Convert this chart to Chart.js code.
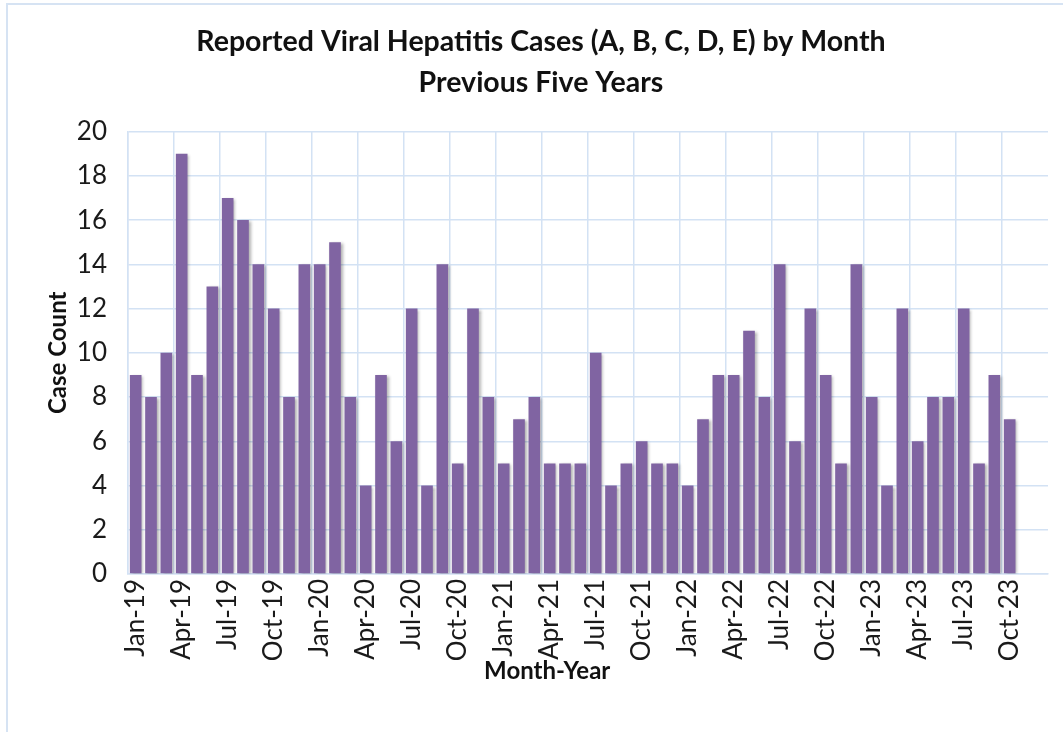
<!DOCTYPE html>
<html>
<head>
<meta charset="utf-8">
<script src="https://cdn.jsdelivr.net/npm/chart.js@4/dist/chart.umd.min.js"></script>
<style>
  html, body { margin: 0; padding: 0; background: #fff; }
  #wrap { position: relative; width: 1063px; height: 732px; overflow: hidden; }
  #frame { position: absolute; left: 6px; top: 3px; width: 1100px; height: 800px;
           border-top: 2px solid #D6E3F3; border-left: 2px solid #D6E3F3; pointer-events: none; }
  canvas { position: absolute; left: 0; top: 0; }
</style>
</head>
<body>
<div id="wrap">
  <canvas id="c" width="1063" height="732"></canvas>
  <div id="frame"></div>
</div>
<script>
const categories = [
  "Jan-19","Feb-19","Mar-19","Apr-19","May-19","Jun-19","Jul-19","Aug-19","Sep-19","Oct-19","Nov-19","Dec-19",
  "Jan-20","Feb-20","Mar-20","Apr-20","May-20","Jun-20","Jul-20","Aug-20","Sep-20","Oct-20","Nov-20","Dec-20",
  "Jan-21","Feb-21","Mar-21","Apr-21","May-21","Jun-21","Jul-21","Aug-21","Sep-21","Oct-21","Nov-21","Dec-21",
  "Jan-22","Feb-22","Mar-22","Apr-22","May-22","Jun-22","Jul-22","Aug-22","Sep-22","Oct-22","Nov-22","Dec-22",
  "Jan-23","Feb-23","Mar-23","Apr-23","May-23","Jun-23","Jul-23","Aug-23","Sep-23","Oct-23","Nov-23","Dec-23"
];
const caseCounts = [
  9, 8, 10, 19, 9, 13, 17, 16, 14, 12, 8, 14,
  14, 15, 8, 4, 9, 6, 12, 4, 14, 5, 12, 8,
  5, 7, 8, 5, 5, 5, 10, 4, 5, 6, 5, 5,
  4, 7, 9, 9, 11, 8, 14, 6, 12, 9, 5, 14,
  8, 4, 12, 6, 8, 8, 12, 5, 9, 7, null, null
];
const yTicks = [0, 2, 4, 6, 8, 10, 12, 14, 16, 18, 20];
const titleLines = ["Reported Viral Hepatitis Cases (A, B, C, D, E) by Month", "Previous Five Years"];
const yTitle = "Case Count";
const xTitle = "Month-Year";

const FONT = "Lato, 'Open Sans', sans-serif";
const GRID = "#D3E2F4";
const BAR = "#8064A2";

const shadowPlugin = {
  id: 'barShadow',
  beforeDatasetsDraw(chart) {
    const ctx = chart.ctx;
    ctx.save();
    ctx.shadowColor = 'rgba(0,0,0,0.32)';
    ctx.shadowOffsetX = 2;
    ctx.shadowOffsetY = 1;
    ctx.shadowBlur = 3;
  },
  afterDatasetsDraw(chart) {
    chart.ctx.restore();
  }
};

new Chart(document.getElementById('c'), {
  type: 'bar',
  data: {
    labels: categories,
    datasets: [{
      label: 'Case Count',
      data: caseCounts,
      backgroundColor: BAR,
      borderWidth: 0,
      barPercentage: 0.76,
      categoryPercentage: 1.0
    }]
  },
  options: {
    responsive: false,
    animation: false,
    events: [],
    layout: { padding: { left: 34, right: 15, top: 0, bottom: 0 } },
    plugins: {
      legend: { display: false },
      tooltip: { enabled: false },
      title: {
        display: true,
        text: titleLines,
        color: '#111',
        font: { family: FONT, size: 28.5, weight: 'bold', lineHeight: 1.45 },
        padding: { top: 21, bottom: 28 }
      }
    },
    scales: {
      x: {
        offset: true,
        grid: {
          offset: true,
          drawTicks: false,
          lineWidth: 1.5,
          color: (c) => (c.index % 3 === 0 ? GRID : 'rgba(0,0,0,0)')
        },
        border: { display: true, color: GRID, width: 1.5 },
        ticks: {
          autoSkip: false,
          minRotation: 90,
          maxRotation: 90,
          padding: 5,
          color: '#1a1a1a',
          font: { family: FONT, size: 26 },
          callback: function (v, i) { return i % 3 === 0 ? this.getLabelForValue(v) : ''; }
        },
        title: {
          display: true,
          text: xTitle + '              ',
          color: '#111',
          font: { family: FONT, size: 24, weight: 'bold', lineHeight: 1.2 },
          padding: { top: 0, bottom: 46 }
        },
        afterFit(scale) {
          scale.height = 158;
          scale.paddingLeft = 0;
          scale.paddingRight = 0;
        }
      },
      y: {
        min: yTicks[0],
        max: yTicks[yTicks.length - 1],
        afterBuildTicks(scale) { scale.ticks = yTicks.map(v => ({ value: v })); },
        grid: { drawTicks: false, lineWidth: 1.5, color: GRID },
        border: { display: true, color: GRID, width: 1.5 },
        ticks: {
          padding: 21,
          color: '#1a1a1a',
          font: { family: FONT, size: 26 }
        },
        title: {
          display: true,
          text: yTitle,
          color: '#111',
          font: { family: FONT, size: 24, weight: 'bold', lineHeight: 1.2 },
          padding: { top: 10, bottom: 0 }
        },
        afterFit(scale) { scale.width = 94; }
      }
    }
  },
  plugins: [shadowPlugin]
});
</script>
</body>
</html>
